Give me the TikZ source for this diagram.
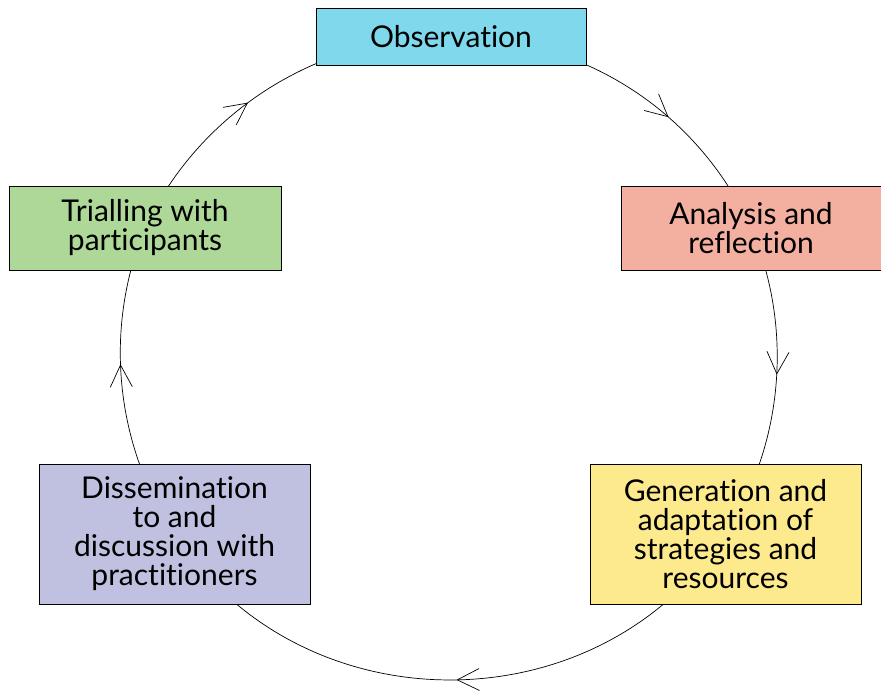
\documentclass[tikz,border=0pt]{standalone}
\usepackage{fontspec}
\setmainfont{Lato}[Ligatures={NoCommon}]
\usetikzlibrary{arrows.meta, decorations.markings}
\pgfdeclarelayer{background}
\pgfsetlayers{background,main}

\definecolor{obscol}{RGB}{127,216,236}
\definecolor{anacol}{RGB}{243,175,160}
\definecolor{gencol}{RGB}{252,234,140}
\definecolor{discol}{RGB}{192,192,224}
\definecolor{tricol}{RGB}{174,216,152}

\tikzset{x=1pt,y=1pt,
  box/.style={draw, line width=0.7pt, align=center, inner sep=0pt,
    font=\fontsize{30}{29}\selectfont},
  flow/.style={line width=0.7pt,
    decoration={markings, mark=at position #1 with {\arrow{Straight Barb[length=22pt,width=22pt]}}},
    postaction={decorate}}
}

\begin{document}
\begin{tikzpicture}
\useasboundingbox (0,0) rectangle (881,691);
\node[box, fill=obscol, minimum width=270, minimum height=57] (obs) at (451,654) {Observation};
\node[box, fill=anacol, minimum width=260, minimum height=84] (ana) at (751,463) {Analysis and\\reflection};
\node[box, fill=gencol, minimum width=271, minimum height=140] (gen) at (725.5,157) {Generation and\\adaptation of\\strategies and\\resources};
\node[box, fill=discol, minimum width=271, minimum height=140] (dis) at (174.5,157) {Dissemination\\to and\\discussion with\\practitioners};
\node[box, fill=tricol, minimum width=272, minimum height=84] (tri) at (145,463) {Trialling with\\participants};

\begin{pgfonlayer}{background}
\draw
(obs.center) edge[flow=.63, bend left=33, looseness=.93] (ana.center)
(ana.center) edge[flow=.47, bend left=28, looseness=.9] (gen.center)
(gen.center) edge[flow=.49, bend left=57, looseness=1.08] (dis.center)
(dis.center) edge[flow=.564, bend left=28, looseness=.9] (tri.center)
(tri.center) edge[flow=.43, bend left=33, looseness=.92] (obs.center);
\end{pgfonlayer}
\end{tikzpicture}
\end{document}
